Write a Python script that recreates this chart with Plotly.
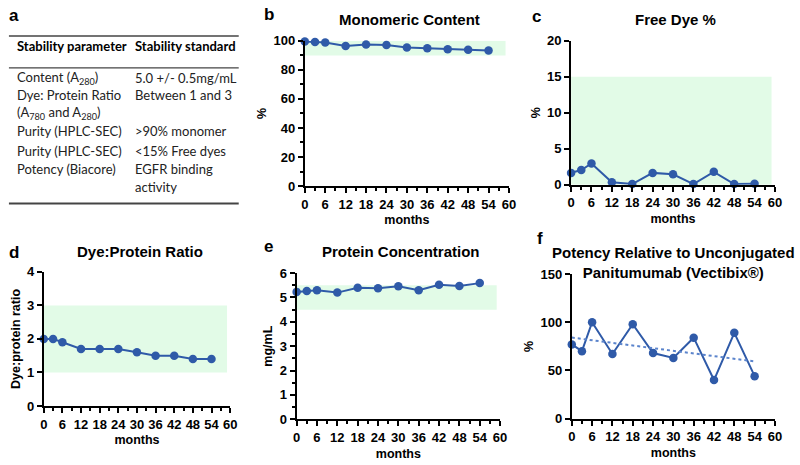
import numpy as np
import plotly.graph_objects as go

W, H = 800, 465

months = [0, 3, 6, 12, 18, 24, 30, 36, 42, 48, 54]
monomeric = [99.5, 99.2, 98.8, 96.4, 97.5, 97.2, 95.5, 94.9, 94.2, 93.9, 93.3]
free_dye = [1.65, 2.05, 2.95, 0.36, 0.1, 1.65, 1.45, 0.1, 1.8, 0.1, 0.15]
dye_ratio = [2.0, 2.0, 1.9, 1.7, 1.7, 1.7, 1.6, 1.5, 1.5, 1.4, 1.4]
protein_conc = [5.23, 5.27, 5.30, 5.20, 5.40, 5.38, 5.46, 5.30, 5.52, 5.47, 5.59]
potency = [77, 70, 100, 67, 98, 68, 63, 84, 40, 89, 44]

spec_b = (90, 100)
spec_c = (0, 15)
spec_d = (1, 3)
spec_e = (4.5, 5.5)

table_params = ["Content (A<sub>280</sub>)", "Dye: Protein Ratio", "(A<sub>780</sub> and A<sub>280</sub>)",
                "Purity (HPLC-SEC)", "Purity (HPLC-SEC)", "Potency (Biacore)", ""]
table_standards = ["5.0 +/- 0.5mg/mL", "Between 1 and 3", "", ">90% monomer",
                   "<15% Free dyes", "EGFR binding", "activity"]
table_rows_y = [73, 91, 110, 128, 149, 167, 186]

BLUE = "#2f5aa8"
GREEN = "#e2fbe7"
FONT = "Liberation Sans"

fig = go.Figure()

def px_x(v):
    return v / W

def px_y(v):
    return 1 - v / H

panels = [
    ("", (305, 512), (35, 185), [0, 100], 20, 10, "Monomeric Content", 13, "%", monomeric, spec_b),
    ("2", (575, 781.7), (34.7, 183.7), [0, 20], 5, None, "Free Dye %", 13, "%", free_dye, spec_c),
    ("3", (40.3, 229.3), (273.7, 412.3), [0, 4], 1, None, "Dye:Protein Ratio", 253, "Dye:protein ratio", dye_ratio, spec_d),
    ("4", (296.7, 503), (275, 426), [0, 6], 1, 0.5, "Protein Concentration", 253, "mg/mL", protein_conc, spec_e),
    ("5", (575.7, 781.7), (276, 425.3), [0, 150], 50, None, None, None, "%", potency, None),
]

layout_axes = {}
annotations = []
shapes = []

for suf, (x0, x1), (yt, yb), yr, ydt, ymin, title, ty, ytitle, data, spec in panels:
    xa = "x" + suf
    ya = "y" + suf
    if spec is not None:
        shapes.append(dict(type="rect", xref=xa, yref=ya, x0=0, x1=59, y0=spec[0], y1=spec[1],
                           fillcolor=GREEN, line=dict(width=0), layer="below"))
    fig.add_trace(go.Scatter(x=months, y=data, mode="lines+markers", xaxis=xa, yaxis=ya,
                             line=dict(color=BLUE, width=2), marker=dict(color=BLUE, size=8.5),
                             cliponaxis=False, showlegend=False))
    xdict = dict(domain=[px_x(x0), px_x(x1)], range=[0, 60], tickmode="linear", tick0=0, dtick=6,
                 showline=True, linecolor="black", linewidth=2, ticks="outside", ticklen=5, tickwidth=1.5,
                 tickcolor="black", showgrid=False, zeroline=False, anchor=ya,
                 minor=dict(dtick=3, tick0=0, ticks="outside", ticklen=3, tickwidth=1.5, tickcolor="black", showgrid=False),
                 tickfont=dict(family=FONT, size=13, color="black", weight="bold"),
                 title=dict(text="<b>months</b>", font=dict(family=FONT, size=12.5, color="black"), standoff=5))
    ydict = dict(domain=[px_y(yb), px_y(yt)], range=yr, tickmode="linear", tick0=0, dtick=ydt,
                 showline=True, linecolor="black", linewidth=2, ticks="outside", ticklen=5, tickwidth=1.5,
                 tickcolor="black", showgrid=False, zeroline=False, anchor=xa,
                 tickfont=dict(family=FONT, size=13, color="black", weight="bold"),
                 title=dict(text="<b>" + ytitle + "</b>", font=dict(family=FONT, size=12.5, color="black"), standoff=4))
    if ymin is not None:
        ydict["minor"] = dict(dtick=ymin, tick0=0, ticks="outside", ticklen=3, tickwidth=1.5, tickcolor="black", showgrid=False)
    layout_axes["xaxis" + suf] = xdict
    layout_axes["yaxis" + suf] = ydict
    if title:
        annotations.append(dict(text="<b>" + title + "</b>", x=px_x((x0 + x1) / 2 + 3), y=px_y(ty),
                                xref="paper", yref="paper", showarrow=False,
                                font=dict(family=FONT, size=15, color="black"), xanchor="center", yanchor="middle"))

# trend line for potency (linear regression of the data)
slope, intercept = np.polyfit(months, potency, 1)
tx = [months[0], months[-1]]
fig.add_trace(go.Scatter(x=tx, y=[intercept + slope * t for t in tx], mode="lines", xaxis="x5", yaxis="y5",
                         line=dict(color="#5b84cc", width=2, dash="dot"), showlegend=False, cliponaxis=False))

annotations.append(dict(text="<b>Potency Relative to Unconjugated<br>Panitumumab (Vectibix®)</b>",
                        x=px_x(679), y=px_y(264), xref="paper", yref="paper", showarrow=False,
                        font=dict(family=FONT, size=15, color="black"), xanchor="center", yanchor="middle"))

# panel letters
for letter, lx, ly in [("a", 3, 9), ("b", 262, 8), ("c", 533, 10), ("d", 3, 254), ("e", 262, 247), ("f", 538, 239)]:
    annotations.append(dict(text="<b>" + letter + "</b>", x=px_x(lx), y=px_y(ly), xref="paper", yref="paper",
                            showarrow=False, font=dict(family=FONT, size=17, color="black"),
                            xanchor="left", yanchor="middle"))

# table (panel a)
TF = "Lato"
annotations.append(dict(text="<b>Stability parameter</b>", x=px_x(11), y=px_y(40), xref="paper", yref="paper",
                        showarrow=False, font=dict(family=TF, size=13, color="black"), xanchor="left", yanchor="middle"))
annotations.append(dict(text="<b>Stability standard</b>", x=px_x(131), y=px_y(40), xref="paper", yref="paper",
                        showarrow=False, font=dict(family=TF, size=13, color="black"), xanchor="left", yanchor="middle"))
for p, s, ry in zip(table_params, table_standards, table_rows_y):
    if p:
        annotations.append(dict(text=p, x=px_x(11), y=px_y(ry), xref="paper", yref="paper", showarrow=False,
                                font=dict(family=TF, size=13, color="#222"), xanchor="left", yanchor="middle"))
    if s:
        annotations.append(dict(text=s, x=px_x(131), y=px_y(ry), xref="paper", yref="paper", showarrow=False,
                                font=dict(family=TF, size=13, color="#222"), xanchor="left", yanchor="middle"))
for ly_, lw in [(30, 1.5), (63, 1.2), (203, 2)]:
    shapes.append(dict(type="line", xref="paper", yref="paper", x0=px_x(5), x1=px_x(238), y0=px_y(ly_), y1=px_y(ly_),
                       line=dict(color="#444", width=lw)))

fig.update_layout(width=W, height=H, margin=dict(l=0, r=0, t=0, b=0), plot_bgcolor="white", paper_bgcolor="white",
                  annotations=annotations, shapes=shapes, showlegend=False, **layout_axes)

fig.write_html("out.html", config={"displayModeBar": False},
               post_script="document.body.style.margin='0';document.body.style.overflow='hidden';")
